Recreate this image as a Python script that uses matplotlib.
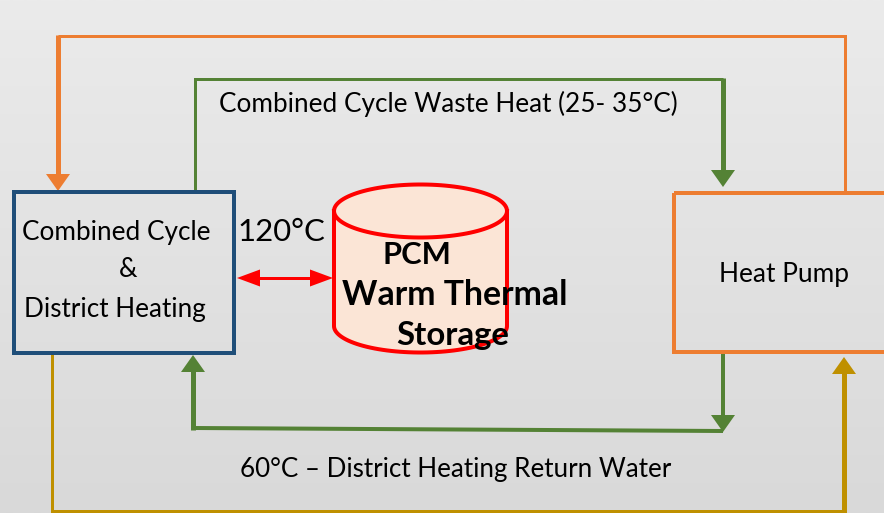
import numpy as np
import matplotlib.pyplot as plt
from matplotlib.patches import Polygon, Rectangle, PathPatch
from matplotlib.path import Path
from matplotlib.colors import LinearSegmentedColormap

# text of the diagram
box_labels = ["Combined Cycle", "&", "District Heating"]
storage_labels = ["PCM", "Warm Thermal", "Storage"]
pump_label = "Heat Pump"
waste_heat_label = "Combined Cycle Waste Heat (25- 35°C)"
return_label = "60°C – District Heating Return Water"
temp_label = "120°C"

# colours
ORANGE = "#ed7d31"
GREEN = "#548235"
BLUE = "#1f4e79"
GOLD = "#bf9000"
RED = "#ff0000"
TANK = "#fbe5d6"
FONT = "Lato"

W, H = 884, 513
fig = plt.figure(figsize=(W / 100, H / 100), dpi=100)
ax = fig.add_axes([0, 0, 1, 1])
ax.set_xlim(0, W)
ax.set_ylim(H, 0)
ax.axis("off")

# light grey background gradient
bg = LinearSegmentedColormap.from_list("bg", ["#ebebeb", "#d9d9d9"])
ax.imshow(np.linspace(0, 1, 256).reshape(-1, 1), extent=[0, W, H, 0],
          cmap=bg, aspect="auto", zorder=0)


def line(xs, ys, color, px):
    ax.plot(xs, ys, color=color, lw=px * 0.72, solid_joinstyle="miter",
            solid_capstyle="butt", zorder=2)


def head(x, y, d, color, length=17, width=24):
    # triangle with its tip at (x, y); d = direction it points to
    if d == "down":
        pts = [(x, y), (x - width / 2, y - length), (x + width / 2, y - length)]
    elif d == "up":
        pts = [(x, y), (x - width / 2, y + length), (x + width / 2, y + length)]
    elif d == "left":
        pts = [(x, y), (x + length, y - width / 2), (x + length, y + width / 2)]
    else:
        pts = [(x, y), (x - length, y - width / 2), (x - length, y + width / 2)]
    ax.add_patch(Polygon(pts, closed=True, facecolor=color, edgecolor="none", zorder=3))


# orange loop: heat pump -> top -> combined cycle
line([845, 845, 58], [193, 36, 36], ORANGE, 3)
line([58, 58], [34.5, 176], ORANGE, 5)
head(58, 191, "down", ORANGE)

# green: combined cycle waste heat -> heat pump
line([195, 195, 723], [192, 79, 79], GREEN, 3)
line([723, 723], [77.5, 172], GREEN, 5)
head(723, 187, "down", GREEN)

# green: heat pump -> return water -> combined cycle
line([723, 723], [352, 416], GREEN, 4)
head(723, 432, "down", GREEN)
line([723, 193], [431, 428], GREEN, 4)
line([193, 193], [430, 371], GREEN, 5)
head(193, 355, "up", GREEN)

# gold: bottom loop
line([52, 52, 844], [353, 511, 511], GOLD, 3)
line([844, 844], [512.5, 373], GOLD, 5)
head(844, 357, "up", GOLD)

# boxes
ax.add_patch(Rectangle((14, 192), 220, 161, fill=False, edgecolor=BLUE,
                       lw=4 * 0.72, zorder=4))
ax.add_patch(Rectangle((674, 193), 240, 159, fill=False, edgecolor=ORANGE,
                       lw=4 * 0.72, zorder=4))

# cylinder (PCM storage)
cx, rx, ry = 420.5, 86.5, 26.5
top, bot = 211, 326
t1 = np.linspace(np.pi, 0, 60)
t2 = np.linspace(0, -np.pi, 60)
verts = [(cx - rx, top), (cx - rx, bot)]
verts += list(zip(cx + rx * np.cos(t1), bot + ry * np.sin(t1)))
verts += [(cx + rx, top)]
verts += list(zip(cx + rx * np.cos(t2), top + ry * np.sin(t2)))
verts += [verts[0]]
codes = [Path.MOVETO] + [Path.LINETO] * (len(verts) - 2) + [Path.CLOSEPOLY]
ax.add_patch(PathPatch(Path(verts, codes), facecolor=TANK, edgecolor=RED,
                       lw=4 * 0.72, zorder=3))
t3 = np.linspace(0, np.pi, 60)
ax.plot(cx + rx * np.cos(t3), top + ry * np.sin(t3), color=RED, lw=4 * 0.72, zorder=3)

# red double arrow
line([255, 315], [278, 278], RED, 3)
head(237, 278, "left", RED, length=23, width=17)
head(333, 278, "right", RED, length=23, width=17)

# texts, fitted to the widths seen in the picture
texts = []


def label(x, y, s, width=None, bold=False):
    t = ax.text(x, y, s, fontsize=20, ha="center", va="baseline", family=FONT,
                fontweight="bold" if bold else "normal", color="black", zorder=6)
    texts.append((t, width))
    return t


label(448.5, 112, waste_heat_label, 459)
label(456, 477, return_label, 433)
label(116, 240, box_labels[0], 188)
amp = label(128, 277, box_labels[1])
label(115, 317, box_labels[2], 182)
label(281, 241, temp_label, 88)
label(784, 282, pump_label, 130)
label(417, 264, storage_labels[0], 69, bold=True)
label(455, 305, storage_labels[1], 225, bold=True)
label(453, 345, storage_labels[2], 113, bold=True)

fig.canvas.draw()
r = fig.canvas.get_renderer()
for t, w in texts:
    if w:
        bb = t.get_window_extent(r)
        t.set_fontsize(20 * w / bb.width)
amp.set_fontsize(texts[2][0].get_fontsize())

fig.savefig("out.png", dpi=100)
